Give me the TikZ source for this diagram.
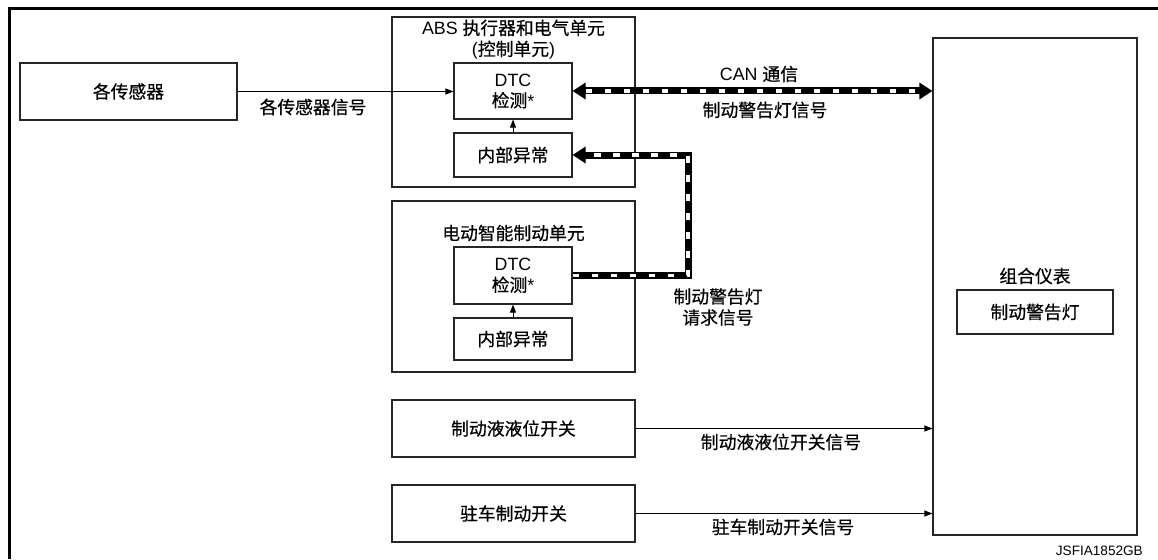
\documentclass[tikz,border=0pt]{standalone}
\usepackage{fontspec}
\setmainfont{Liberation Sans}
\newfontfamily\cjk[FakeBold=0.5]{Noto Sans CJK SC}
\newcommand\zhs[1]{{\cjk #1}}
\usetikzlibrary{arrows.meta}
\begin{document}
\begin{tikzpicture}[x=1pt,y=-1pt,
  txt/.style={font=\fontsize{17.8}{21}\selectfont},
  box/.style={draw=black!85, line width=1.1pt, rectangle, inner sep=0pt, txt},
  lbl/.style={inner sep=0pt, txt, align=center},
  sig/.style={draw=black, line width=1pt, -{Triangle[length=8pt,width=6pt]}},
  busbase/.style={draw=black, line width=7pt},
  busdash/.style={draw=white, line width=3.4pt, dash pattern=on 6.5pt off 12.5pt},
  bustip/.style={-{Triangle[length=13pt,width=16pt]}},
]
\useasboundingbox (0,0) rectangle (1158,559);
% outer frame
\draw[line width=3pt] (9,559) -- (9,9) -- (1158,9);

% left sensor
\node[box, minimum width=217pt, minimum height=57pt] (sensors) at (128.5,91.5) {\zhs{各传感器}};

% ABS unit
\node[box, minimum width=243pt, minimum height=170pt] (abs) at (513.5,102) {};
\node[lbl] (abstitle) at (513.5,39.5) {ABS \zhs{执行器和电气单元}\\(\zhs{控制单元})};
\node[box, minimum width=118pt, minimum height=56pt, align=center] (dtc1) at (513,91) {DTC\\\zhs{检测}*};
\node[box, minimum width=118pt, minimum height=44pt] (int1) at (513,155) {\zhs{内部异常}};

% electric brake unit
\node[box, minimum width=243pt, minimum height=171pt] (ebu) at (513.5,286.5) {};
\node[lbl] (ebutitle) at (513.5,233) {\zhs{电动智能制动单元}};
\node[box, minimum width=118pt, minimum height=57pt, align=center] (dtc2) at (513,275.5) {DTC\\\zhs{检测}*};
\node[box, minimum width=118pt, minimum height=42pt] (int2) at (513,339) {\zhs{内部异常}};

% switches
\node[box, minimum width=243pt, minimum height=57pt] (fluid) at (513.5,428.5) {\zhs{制动液液位开关}};
\node[box, minimum width=243pt, minimum height=57pt] (park) at (513.5,513.5) {\zhs{驻车制动开关}};

% combination meter
\node[box, minimum width=204pt, minimum height=497pt] (meter) at (1035,286.5) {};
\node[lbl] (metertitle) at (1035,276) {\zhs{组合仪表}};
\node[box, minimum width=156pt, minimum height=44pt] (lamp) at (1035,312) {\zhs{制动警告灯}};

% thin signals
\draw[sig] (sensors.east) -- (sensors.east -| dtc1.west);
\draw[sig] (int1.north) -- (dtc1.south);
\draw[sig] (int2.north) -- (dtc2.south);
\draw[sig] (fluid.east) -- (fluid.east -| meter.west);
\draw[sig] (park.east) -- (park.east -| meter.west);

% CAN bus
\draw[busbase, {Triangle[length=13pt,width=16pt]}-{Triangle[length=13pt,width=16pt]}] (dtc1.east) -- (dtc1.east -| meter.west);
\draw[busdash, shorten <=13pt, shorten >=13pt] (dtc1.east) -- (dtc1.east -| meter.west);

% request line
\coordinate (busx) at (688,0);
\draw[busbase, bustip] (dtc2.east) -| (busx |- int1.east) -- (int1.east);
\draw[busdash, shorten >=13pt] (dtc2.east) -| (busx |- int1.east) -- (int1.east);

% labels
\node[lbl] (l1) at (313,107) {\zhs{各传感器信号}};
\node[lbl] (l2) at (759,74) {CAN \zhs{通信}};
\node[lbl] (l3) at (765,110) {\zhs{制动警告灯信号}};
\node[lbl] (l4) at (718,307) {\zhs{制动警告灯}\\\zhs{请求信号}};
\node[lbl] (l5) at (781,442) {\zhs{制动液液位开关信号}};
\node[lbl] (l6) at (783,527) {\zhs{驻车制动开关信号}};
\node[inner sep=0pt, anchor=east, font=\fontsize{13.6}{15}\selectfont] (code) at (1143,551) {JSFIA1852GB};
\end{tikzpicture}
\end{document}
